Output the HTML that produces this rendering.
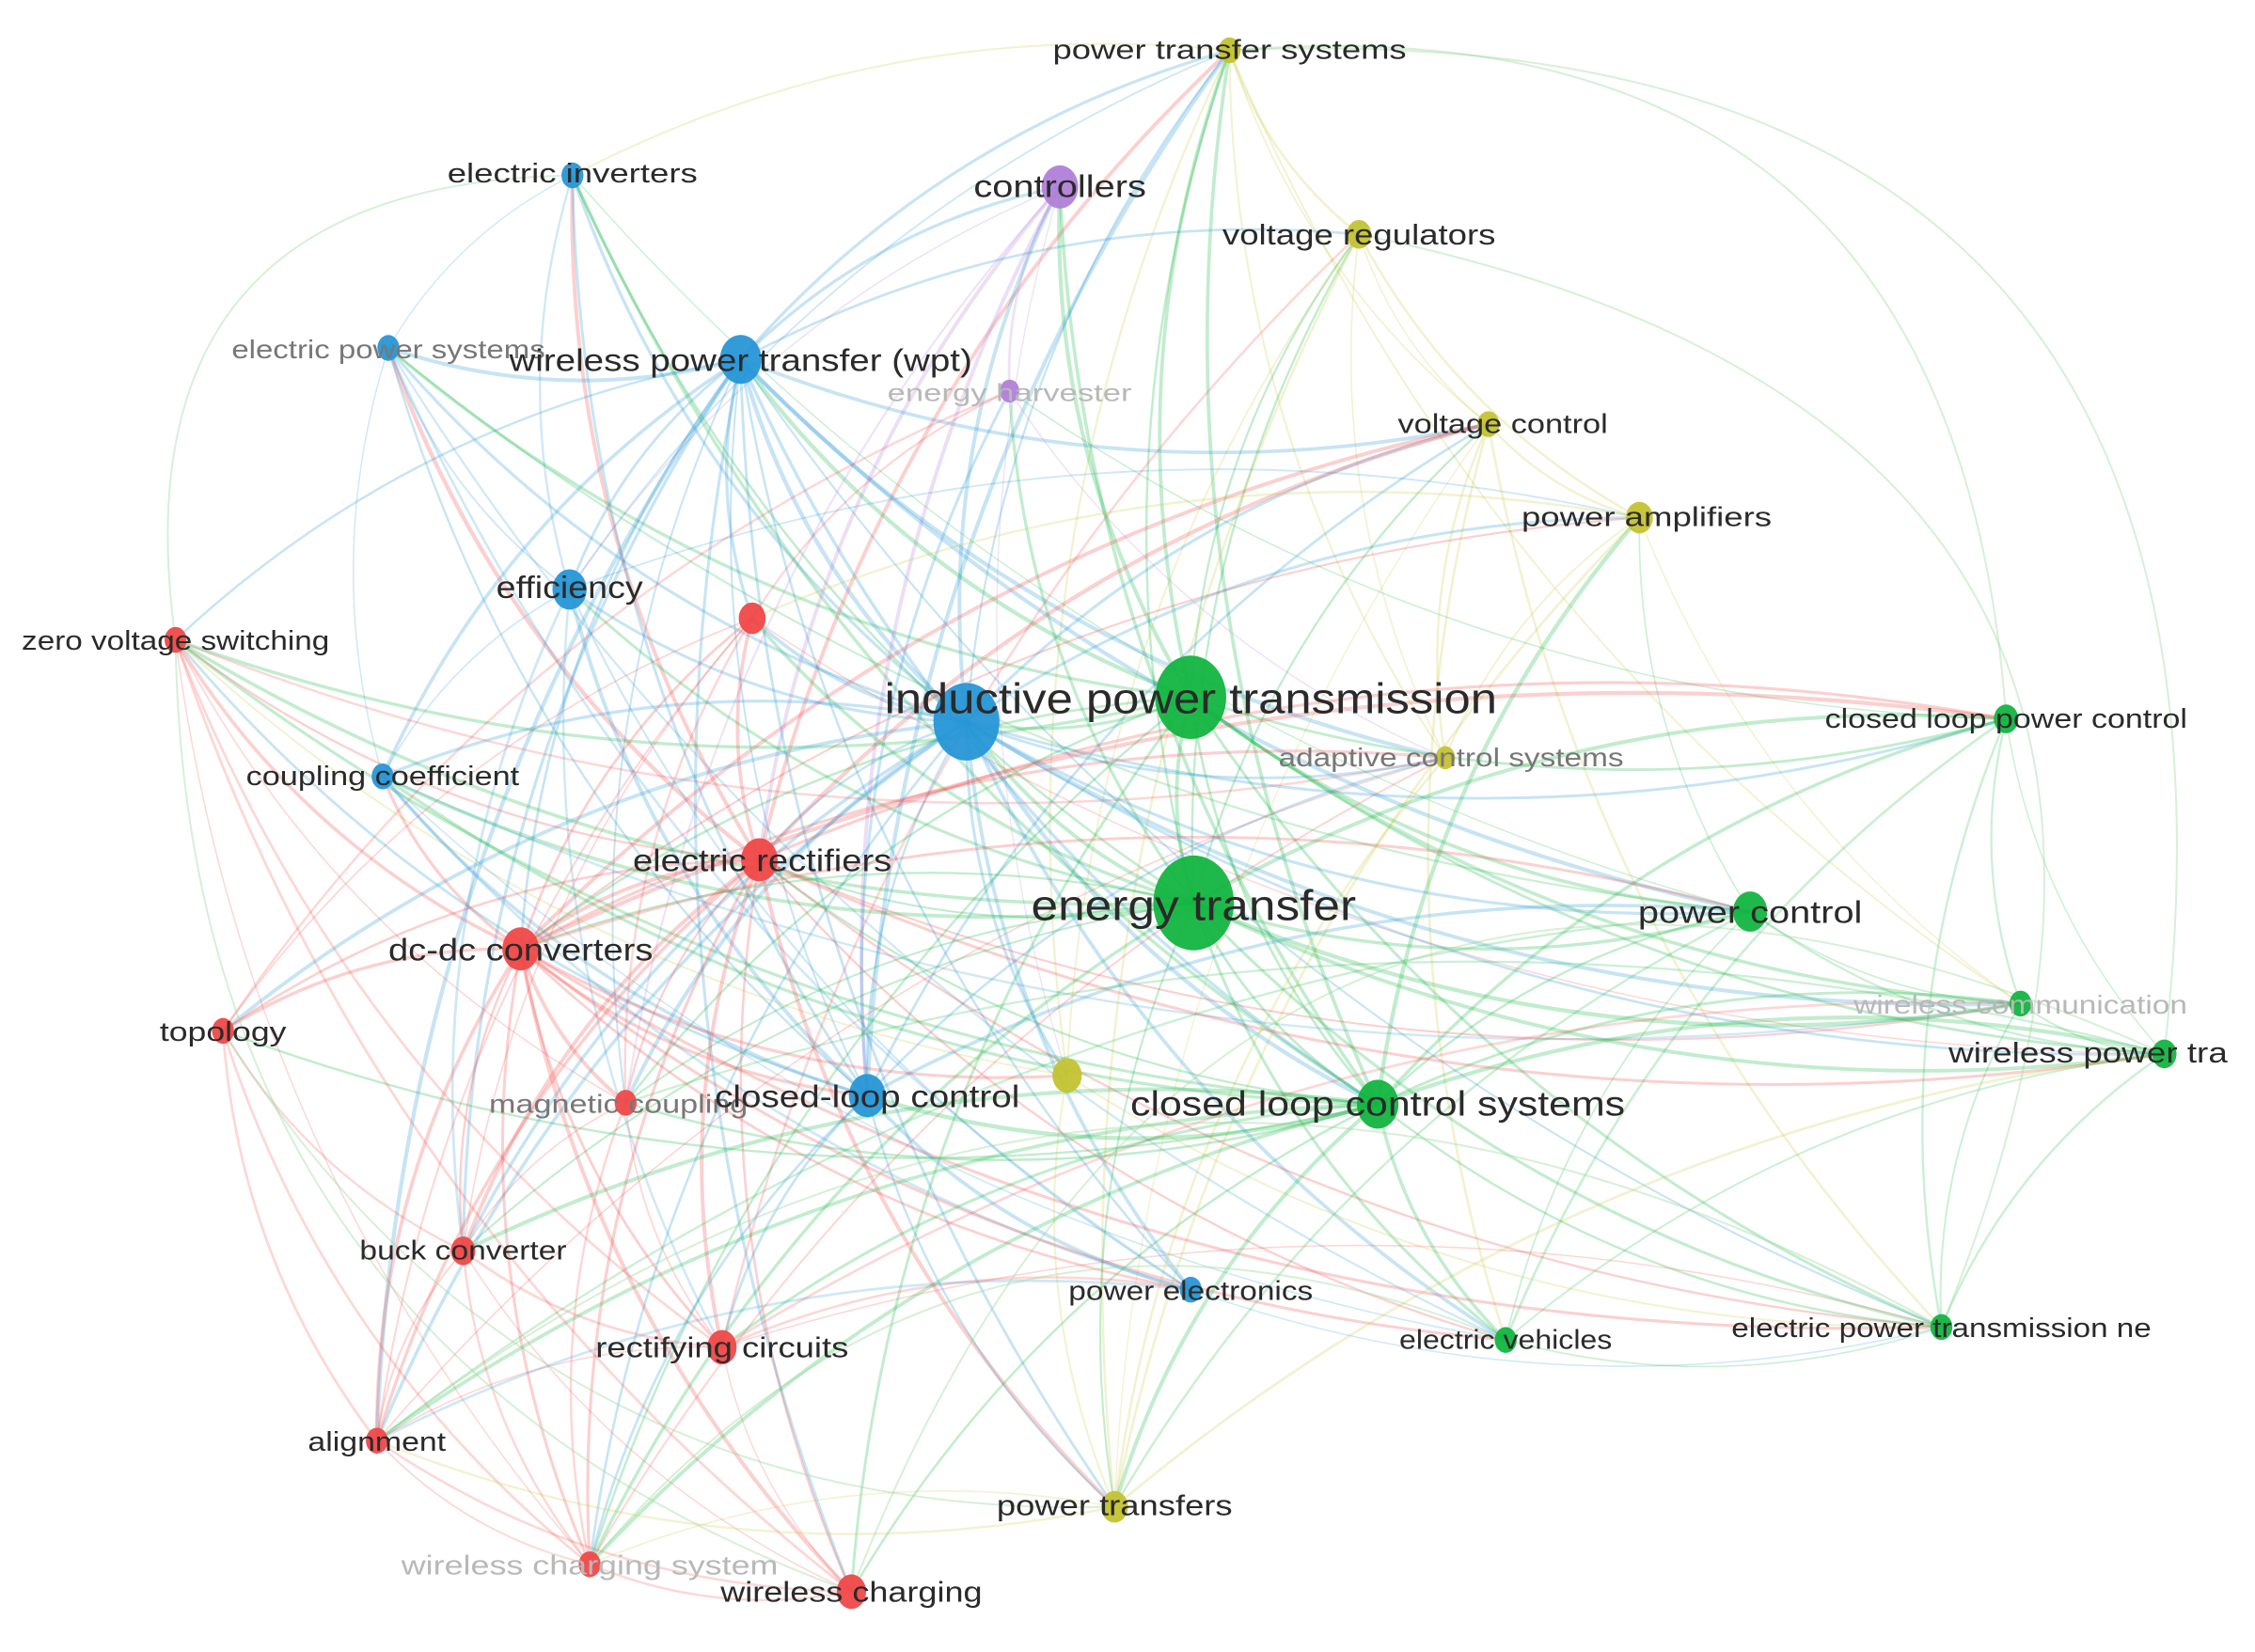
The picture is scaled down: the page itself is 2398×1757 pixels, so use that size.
<!DOCTYPE html>
<html><head><meta charset="utf-8"><style>
html,body{margin:0;padding:0;background:#fff;width:2398px;height:1757px;overflow:hidden}
svg{display:block}
text{font-family:"Liberation Sans",sans-serif;fill:#2a2a2a}
</style></head><body>
<svg id="s" width="2398" height="1757" viewBox="0 0 1568 1149" xmlns="http://www.w3.org/2000/svg">
<g id="edges" fill="none"></g><g id="nodes"></g><g id="labels"></g>
</svg>
<script>
var C={b:"#2796d6",g:"#12b540",r:"#f04848",y:"#c4c232",p:"#b07fd8"};
var N=[
[855,35,9,'y','power transfer systems',855,41,19,246],
[398,122,9,'b','electric inverters',398,127,19,174],
[737,130,15,'p','controllers',737,137,22,120],
[945,163,10,'y','voltage regulators',945,170,20,190],
[270,242,9,'b','electric power systems',270,249,18,218,1],
[515,250,17,'b','wireless power transfer (wpt)',515,258,22,322],
[702,272,8,'p','energy harvester',702,279,17,170,2],
[1035,295,9,'y','voltage control',1045,301,19,146],
[1140,360,11,'y','power amplifiers',1145,366,19,174],
[396,410,14,'b','efficiency',396,416,22,102],
[122,445,9,'r','zero voltage switching',122,452,19,214],
[523,430,11,'r','',0,0,0,0],
[672,502,27,'b','',0,0,0,0],
[828,485,29,'g','inductive power transmission',828,496,30,426],
[1395,500,10,'g','closed loop power control',1395,506,19,252],
[1005,527,8,'y','adaptive control systems',1009,533,18,240,1],
[266,540,9,'b','coupling coefficient',266,546,19,190],
[528,598,15,'r','electric rectifiers',530,606,22,180],
[830,628,33,'g','energy transfer',830,640,30,226],
[1217,634,14,'g','power control',1217,642,22,156],
[362,660,15,'r','dc-dc converters',362,668,22,184],
[1405,698,9,'g','wireless communication',1405,705,18,232,2],
[155,717,9,'r','topology',155,724,19,88],
[1505,733,10,'g','wireless power tra',1452,739,20,194],
[742,748,12,'y','',0,0,0,0],
[435,767,9,'r','magnetic coupling',430,774,18,180,1],
[603,762,15,'b','closed-loop control',603,770,22,212],
[958,768,17,'g','closed loop control systems',958,776,24,344],
[322,870,10,'r','buck converter',322,876,19,144],
[828,897,9,'b','power electronics',828,904,19,170],
[1047,932,9,'g','electric vehicles',1047,938,19,148],
[1350,923,9,'g','electric power transmission ne',1350,930,19,292],
[502,937,12,'r','rectifying circuits',502,944,20,176],
[262,1002,9,'r','alignment',262,1009,19,96],
[775,1048,11,'y','power transfers',775,1054,20,164],
[410,1088,9,'r','wireless charging system',410,1095,19,262,2],
[592,1107,12,'r','wireless charging',592,1114,20,182]
];
var E=document.getElementById('edges'),ND=document.getElementById('nodes'),L=document.getElementById('labels');
var seed=11;
function rnd(){seed=(seed*16807)%2147483647;return seed/2147483647;}
var h='';
var hubs=[12,13,18,5,26,27,17,20];
for(var i=0;i<N.length;i++){for(var j=i+1;j<N.length;j++){
 var a=N[i],b=N[j];var isHub=hubs.indexOf(i)>=0||hubs.indexOf(j)>=0;
 var dx=b[0]-a[0],dy=b[1]-a[1],d=Math.sqrt(dx*dx+dy*dy);
 var same=a[3]==b[3];
 var p=isHub?(same?0.9:0.55):(same?0.7:0.18);
 if(d>900)p*=0.4;
 if(rnd()>p)continue;
 var off=d*0.15;
 var mx=(a[0]+b[0])/2-dy/d*off,my=(a[1]+b[1])/2+dx/d*off;
 var col=C[(a[2]>=b[2]?a:b)[3]];
 var w=isHub?(1.3+rnd()*1.6):(0.9+rnd()*1);
 h+='<path d="M'+a[0]+' '+a[1]+'Q'+mx.toFixed(1)+' '+my.toFixed(1)+' '+b[0]+' '+b[1]+'" stroke="'+col+'" stroke-width="'+w.toFixed(2)+'" stroke-opacity="'+(isHub?0.26:0.22)+'"/>';
}}
var outer=[[855,35,1505,733,1400],[592,1107,1505,733,1300],[122,445,592,1107,-700],[398,122,122,445,-600],[262,1002,1350,923,900],[410,1088,1047,932,600],[155,717,775,1048,-500],[945,163,1350,923,1300],[855,35,1395,500,900]];
outer.forEach(function(o){var mx=(o[0]+o[2])/2,my=(o[1]+o[3])/2,dx=o[2]-o[0],dy=o[3]-o[1],d=Math.sqrt(dx*dx+dy*dy),k=o[4]/d*0.4;
 h+='<path d="M'+o[0]+' '+o[1]+'Q'+(mx+dy*k).toFixed(1)+' '+(my-dx*k).toFixed(1)+' '+o[2]+' '+o[3]+'" stroke="#9ad79a" stroke-width="1.3" stroke-opacity="0.4"/>';});
E.innerHTML=h;
var hn='',hl='';
N.forEach(function(n){hn+='<ellipse cx="'+n[0]+'" cy="'+n[1]+'" rx="'+(n[2]*0.85)+'" ry="'+n[2]+'" fill="'+C[n[3]]+'" fill-opacity="0.95"/>';
 if(n[4]){var f=n[9]==2?'#b8b8b8':(n[9]==1?'#777':'#2a2a2a');
 hl+='<text x="'+n[5]+'" y="'+n[6]+'" font-size="'+n[7]+'" text-anchor="middle" textLength="'+n[8]+'" lengthAdjust="spacingAndGlyphs" style="fill:'+f+'">'+n[4]+'</text>';}});
ND.innerHTML=hn;L.innerHTML=hl;
</script>
</body></html>
